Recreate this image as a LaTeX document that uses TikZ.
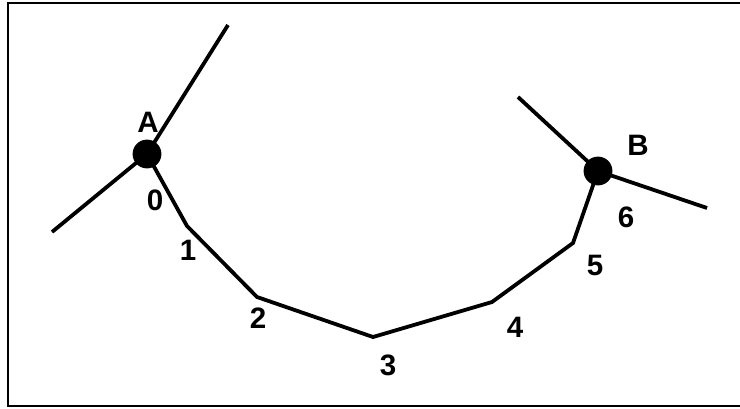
\documentclass[tikz,border=0pt]{standalone}
\usepackage{fontspec}
\setmainfont{Liberation Sans}
\usepackage{tikz}

\begin{document}
\begin{tikzpicture}[
    x=0.025cm, y=-0.025cm,
    edge/.style={line width=2.7pt, line join=miter},
    endpoint/.style={circle, fill=black, inner sep=0pt, minimum size=0.72cm},
    lbl/.style={font=\fontsize{21}{24}\selectfont\bfseries, inner sep=0pt}
]
\useasboundingbox (0,0) rectangle (740,408);
% frame (right side is cut off)
\draw[line width=1.8pt] (742,3) -- (8,3) -- (8,406) -- (742,406);

% end points and polyline
\node[endpoint] (A) at (147,154) {};
\node[endpoint] (B) at (598,171) {};
\coordinate (p1) at (187,226);
\coordinate (p2) at (257,297);
\coordinate (p3) at (373,337);
\coordinate (p4) at (492,302);
\coordinate (p5) at (573,243);
\coordinate (a1) at (228,25);
\coordinate (a2) at (52,232);
\coordinate (b1) at (518,97);
\coordinate (b2) at (707,208);

\draw[edge] (A.center) -- (p1) -- (p2) -- (p3) -- (p4) -- (p5) -- (B.center);
\draw[edge] (a1) -- (A.center) -- (a2);
\draw[edge] (b1) -- (B.center) -- (b2);

% labels
\node[lbl] (lA) at (148,122) {A};
\node[lbl] (lB) at (638,145) {B};
\node[lbl] (l0) at (155,200) {0};
\node[lbl] (l1) at (188,250) {1};
\node[lbl] (l2) at (258,318) {2};
\node[lbl] (l3) at (388,365) {3};
\node[lbl] (l4) at (515,327) {4};
\node[lbl] (l5) at (595,265) {5};
\node[lbl] (l6) at (626,217) {6};
\end{tikzpicture}
\end{document}
